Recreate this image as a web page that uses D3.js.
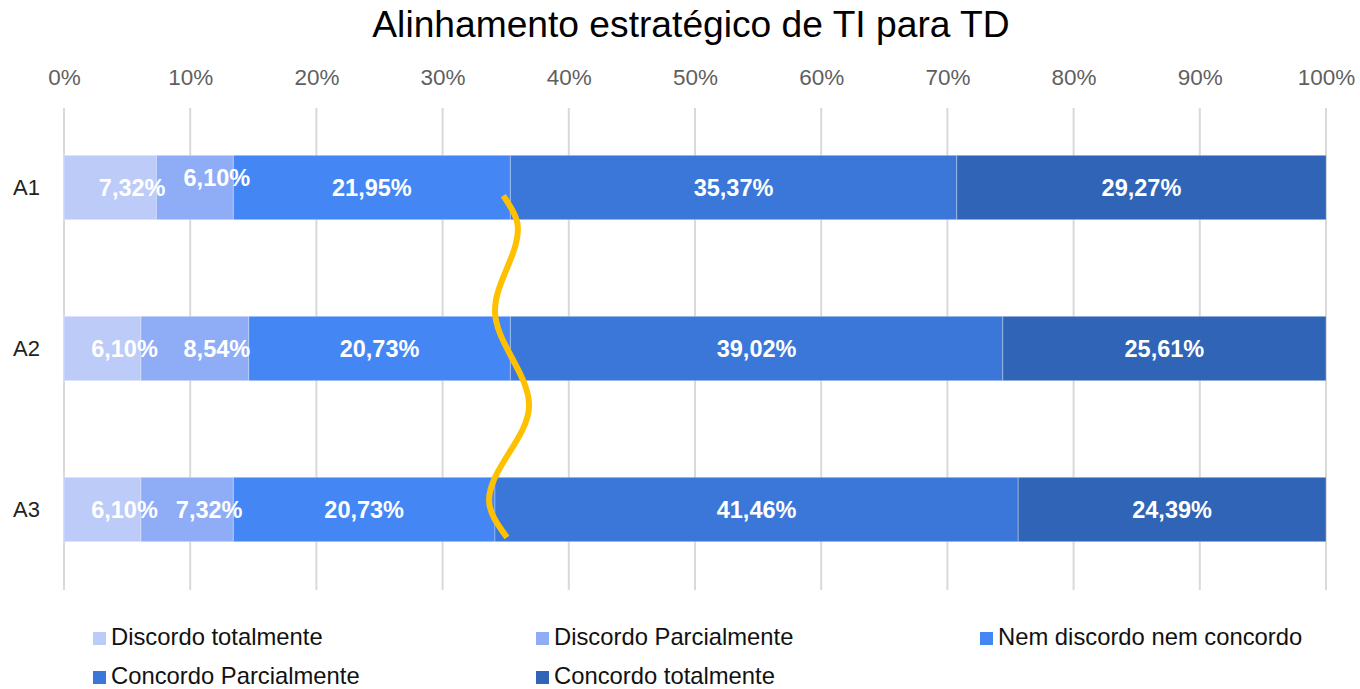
<!DOCTYPE html>
<html>
<head>
<meta charset="utf-8">
<script src="https://cdn.jsdelivr.net/npm/d3@7"></script>
<style>
  body { margin: 0; background: #fff; }
  svg { display: block; font-family: "Liberation Sans", Arial, sans-serif; }
</style>
</head>
<body>
<script>
"use strict";

// data
var categories = ["A1", "A2", "A3"];
var seriesNames = ["Discordo totalmente", "Discordo Parcialmente", "Nem discordo nem concordo",
                   "Concordo Parcialmente", "Concordo totalmente"];
var values = [
  [7.32, 6.10, 21.95, 35.37, 29.27],
  [6.10, 8.54, 20.73, 39.02, 25.61],
  [6.10, 7.32, 20.73, 41.46, 24.39]
];
var xTicks = [0, 10, 20, 30, 40, 50, 60, 70, 80, 90, 100];
// yellow squiggle annotation: [percent, category position]
var squiggle = [[34.81, 0.05], [35.97, 0.255], [34.15, 0.764], [36.85, 1.354], [33.68, 1.944], [35.10, 2.174]];

var colors = ["#bdcbf8", "#8fadf6", "#4487f4", "#3a77d8", "#3064b7"];
// label nudges, the source chart shifts small-segment labels to the right
var labelDx = [22, 22, 0, 0, 0];

var width = 1360, height = 689;

var svg = d3.select("body").append("svg")
    .attr("width", width)
    .attr("height", height);

svg.append("text")
    .attr("x", 691).attr("y", 37)
    .attr("text-anchor", "middle")
    .style("font-size", "37.2px")
    .style("fill", "#000")
    .text("Alinhamento estratégico de TI para TD");

var x = d3.scaleLinear().domain([0, 100]).range([64, 1326]);
var y = d3.scaleBand().domain(categories).range([107, 590])
    .paddingInner(0.6).paddingOuter(0.3);
var yPos = d3.scaleLinear().domain([0, 2])
    .range([y("A1") + y.bandwidth() / 2, y("A3") + y.bandwidth() / 2]);

// gridlines
svg.append("g").selectAll("line")
    .data(xTicks).enter().append("line")
    .attr("x1", function (d) { return x(d); })
    .attr("x2", function (d) { return x(d); })
    .attr("y1", 108).attr("y2", 590)
    .style("stroke", "#d9d9d9")
    .style("stroke-width", 2);

// top axis labels
var xAxis = d3.axisTop(x).tickValues(xTicks)
    .tickFormat(function (d) { return d + "%"; })
    .tickSize(0).tickPadding(0);
var gx = svg.append("g").attr("transform", "translate(0,85)").call(xAxis);
gx.select(".domain").remove();
gx.selectAll("text")
    .attr("dy", 0)
    .style("font-family", "Liberation Sans, Arial, sans-serif")
    .style("font-size", "22.5px")
    .style("fill", "#5f5f5f");

// category labels
var yAxis = d3.axisLeft(y).tickSize(0).tickPadding(0);
var gy = svg.append("g").attr("transform", "translate(40,0)").call(yAxis);
gy.select(".domain").remove();
gy.selectAll("text")
    .attr("dy", "0.35em")
    .style("font-family", "Liberation Sans, Arial, sans-serif")
    .style("font-size", "22px")
    .style("fill", "#222");

// stacked bars
var rows = values.map(function (v, i) {
  var o = { cat: categories[i] };
  seriesNames.forEach(function (s, j) { o[s] = v[j]; });
  return o;
});
var stack = d3.stack().keys(seriesNames)(rows);

var layers = svg.append("g").selectAll("g")
    .data(stack).enter().append("g")
    .style("fill", function (d, j) { return colors[j]; });

layers.selectAll("rect")
    .data(function (d) { return d; }).enter().append("rect")
    .attr("x", function (d) { return x(d[0]); })
    .attr("y", function (d) { return y(d.data.cat); })
    .attr("width", function (d) { return x(d[1]) - x(d[0]); })
    .attr("height", y.bandwidth())
    .style("stroke", "rgba(255,255,255,0.3)")
    .style("stroke-width", 1);

// data labels, drawn above all bars
var labelLayers = svg.append("g").selectAll("g")
    .data(stack).enter().append("g");

labelLayers.each(function (layer, j) {
  d3.select(this).selectAll("text")
    .data(layer).enter().append("text")
    .attr("x", function (d) { return (x(d[0]) + x(d[1])) / 2 + labelDx[j]; })
    .attr("y", function (d, i) {
      var lift = (i === 0 && j === 1) ? 10 : 0;
      return y(d.data.cat) + y.bandwidth() / 2 - lift;
    })
    .attr("dy", "0.36em")
    .attr("text-anchor", "middle")
    .style("font-size", "23.5px")
    .style("font-weight", "bold")
    .style("fill", "#fff")
    .text(function (d) { return (d[1] - d[0]).toFixed(2).replace(".", ",") + "%"; });
});

// yellow squiggle
var line = d3.line()
    .x(function (d) { return x(d[0]); })
    .y(function (d) { return yPos(d[1]); })
    .curve(d3.curveMonotoneY);
svg.append("path")
    .datum(squiggle)
    .attr("d", line)
    .style("fill", "none")
    .style("stroke", "#ffc000")
    .style("stroke-width", 6);

// legend
var legendX = [93, 536, 980];
var legend = svg.append("g").selectAll("g")
    .data(seriesNames).enter().append("g")
    .attr("transform", function (d, i) {
      return "translate(" + legendX[i % 3] + "," + (645 + Math.floor(i / 3) * 39) + ")";
    });
legend.append("rect")
    .attr("x", 0).attr("y", -13)
    .attr("width", 13).attr("height", 13)
    .style("fill", function (d, i) { return colors[i]; });
legend.append("text")
    .attr("x", 18).attr("y", 0)
    .style("font-size", "23.8px")
    .style("fill", "#111")
    .text(function (d) { return d; });
</script>
</body>
</html>
